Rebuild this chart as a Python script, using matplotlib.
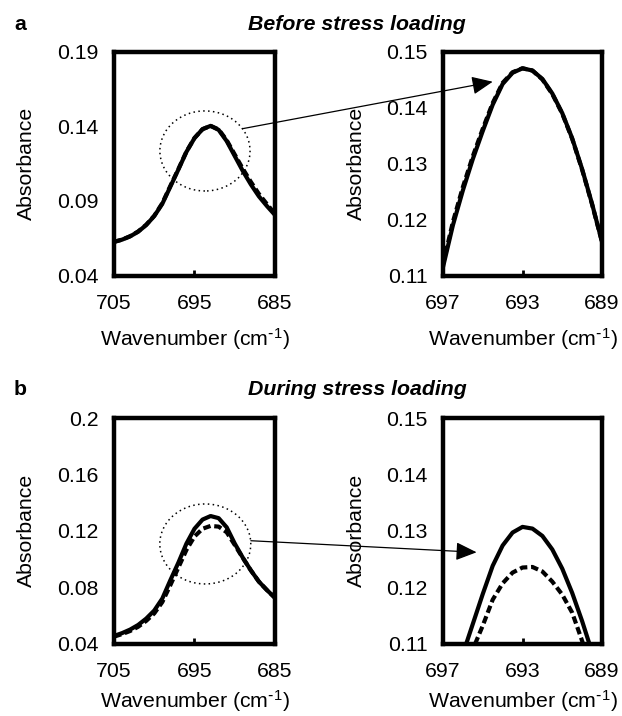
import matplotlib
matplotlib.use("Agg")
import matplotlib.pyplot as plt
from matplotlib.patches import Ellipse, ConnectionPatch

plt.rcParams["font.family"] = ["Liberation Sans", "DejaVu Sans"]
plt.rcParams["mathtext.default"] = "regular"
plt.rcParams["font.size"] = 15.3

# panel a, full range (705 -> 685, step 1)
a_full_x = [705, 704, 703, 702, 701, 700, 699, 698, 697, 696, 695,
            694, 693, 692, 691, 690, 689, 688, 687, 686, 685]
a_full_solid = [0.0625, 0.0640, 0.0662, 0.0693, 0.0738, 0.0798, 0.0880, 0.0995, 0.1110, 0.1228, 0.1320,
                0.1380, 0.1402, 0.1375, 0.1300, 0.1200, 0.1100, 0.1010, 0.0930, 0.0865, 0.0805]
a_full_dashed = [0.0625, 0.0640, 0.0663, 0.0695, 0.0740, 0.0800, 0.0884, 0.1000, 0.1113, 0.1230, 0.1321,
                 0.1380, 0.1402, 0.1378, 0.1306, 0.1210, 0.1115, 0.1027, 0.0946, 0.0878, 0.0812]

# panel a, zoom (697 -> 689, step 0.5)
a_zoom_x = [697.0, 696.5, 696.0, 695.5, 695.0, 694.5, 694.0, 693.5, 693.0,
            692.5, 692.0, 691.5, 691.0, 690.5, 690.0, 689.5, 689.0]
a_zoom_solid = [0.1115, 0.1190, 0.1252, 0.1308, 0.1358, 0.1405, 0.1442, 0.1462, 0.1470,
                0.1466, 0.1451, 0.1425, 0.1390, 0.1345, 0.1290, 0.1228, 0.1160]
a_zoom_dashed = [0.1120, 0.1196, 0.1258, 0.1313, 0.1362, 0.1408, 0.1444, 0.1463, 0.1470,
                 0.1466, 0.1450, 0.1424, 0.1389, 0.1344, 0.1289, 0.1227, 0.1160]

# panel b, full range
b_full_x = a_full_x
b_full_solid = [0.0455, 0.0475, 0.0500, 0.0533, 0.0578, 0.0635, 0.0720, 0.0850, 0.0975, 0.1110, 0.1215,
                0.1280, 0.1305, 0.1290, 0.1225, 0.1110, 0.1010, 0.0920, 0.0840, 0.0780, 0.0725]
b_full_dashed = [0.0450, 0.0468, 0.0490, 0.0520, 0.0562, 0.0615, 0.0695, 0.0815, 0.0940, 0.1065, 0.1160,
                 0.1215, 0.1235, 0.1230, 0.1190, 0.1100, 0.1008, 0.0920, 0.0840, 0.0780, 0.0725]

# panel b, zoom
b_zoom_x = a_zoom_x
b_zoom_solid = [0.0990, 0.1040, 0.1082, 0.1135, 0.1188, 0.1238, 0.1274, 0.1297, 0.1307,
                0.1304, 0.1291, 0.1267, 0.1233, 0.1190, 0.1140, 0.1085, 0.1030]
b_zoom_dashed = [0.0960, 0.1000, 0.1040, 0.1090, 0.1132, 0.1178, 0.1207, 0.1226, 0.1235,
                 0.1236, 0.1228, 0.1210, 0.1187, 0.1155, 0.1105, 0.1050, 0.0995]

full_xticks = [705, 695, 685]
zoom_xticks = [697, 693, 689]
a_full_yticks = [0.04, 0.09, 0.14, 0.19]
a_full_ylabels = ["0.04", "0.09", "0.14", "0.19"]
b_full_yticks = [0.04, 0.08, 0.12, 0.16, 0.2]
b_full_ylabels = ["0.04", "0.08", "0.12", "0.16", "0.2"]
zoom_yticks = [0.11, 0.12, 0.13, 0.14, 0.15]
zoom_ylabels = ["0.11", "0.12", "0.13", "0.14", "0.15"]

titles = ["Before stress loading", "During stress loading"]
letters = ["a", "b"]

fig = plt.figure(figsize=(6.22, 7.16), dpi=100)

W, H = 622.0, 716.0
def box(x0, x1, y0, y1):
    return [x0 / W, 1 - y1 / H, (x1 - x0) / W, (y1 - y0) / H]

ax_a1 = fig.add_axes(box(114, 275, 51.5, 275.5))
ax_a2 = fig.add_axes(box(443, 602, 51.5, 275.5))
ax_b1 = fig.add_axes(box(114, 275, 418, 643.7))
ax_b2 = fig.add_axes(box(443, 602, 418, 643.7))


def style(ax, xlim, xticks, ylim, yticks, ylabels, xpad):
    ax.set_xlim(*xlim)
    ax.set_ylim(*ylim)
    ax.set_xticks(xticks)
    ax.set_xticklabels([str(t) for t in xticks])
    ax.set_yticks(yticks)
    ax.set_yticklabels(ylabels)
    ax.tick_params(axis="x", direction="in", length=4.5, width=2, pad=13)
    ax.tick_params(axis="y", length=0, pad=11)
    for s in ax.spines.values():
        s.set_linewidth(3.2)
    ax.set_xlabel("Wavenumber (cm$^{\\text{-}1}$)", labelpad=xpad)
    ax.set_ylabel("Absorbance", labelpad=15)


def curves(ax, x, solid, dashed):
    ax.plot(x, dashed, color="black", lw=3, dashes=(1.8, 0.9), solid_capstyle="butt")
    ax.plot(x, solid, color="black", lw=3)


curves(ax_a1, a_full_x, a_full_solid, a_full_dashed)
curves(ax_a2, a_zoom_x, a_zoom_solid, a_zoom_dashed)
curves(ax_b1, b_full_x, b_full_solid, b_full_dashed)
curves(ax_b2, b_zoom_x, b_zoom_solid, b_zoom_dashed)

style(ax_a1, (705, 685), full_xticks, (0.04, 0.19), a_full_yticks, a_full_ylabels, 10)
style(ax_a2, (697, 689), zoom_xticks, (0.11, 0.15), zoom_yticks, zoom_ylabels, 10)
style(ax_b1, (705, 685), full_xticks, (0.04, 0.2), b_full_yticks, b_full_ylabels, 5)
style(ax_b2, (697, 689), zoom_xticks, (0.11, 0.15), zoom_yticks, zoom_ylabels, 5)

# dotted circles marking the zoomed region
ax_a1.add_patch(Ellipse((693.7, 0.1234), 11.2, 0.0536, fill=False,
                        ls=(0, (1, 2.2)), lw=1.1, color="black"))
ax_b1.add_patch(Ellipse((693.66, 0.1107), 11.3, 0.0567, fill=False,
                        ls=(0, (1, 2.2)), lw=1.1, color="black"))

astyle = "-|>,head_length=0.8,head_width=0.35"
for axA, axB, pA, pB in [(ax_a1, ax_a2, (689.05, 0.1383), (694.5, 0.1446)),
                         (ax_b1, ax_b2, (688.0, 0.113), (695.31, 0.1262))]:
    con = ConnectionPatch(xyA=pA, coordsA=axA.transData, xyB=pB, coordsB=axB.transData,
                          arrowstyle=astyle, mutation_scale=16, lw=0.9, color="black",
                          shrinkA=0, shrinkB=0)
    fig.add_artist(con)

for letter, title, yb in zip(letters, titles, [29.5, 395.0]):
    fig.text(14 / W, 1 - yb / H, letter, fontweight="bold", va="baseline", ha="left")
    fig.text(357 / W, 1 - yb / H, title, fontweight="bold", fontstyle="italic",
             va="baseline", ha="center")

fig.savefig("out.png", dpi=100)
